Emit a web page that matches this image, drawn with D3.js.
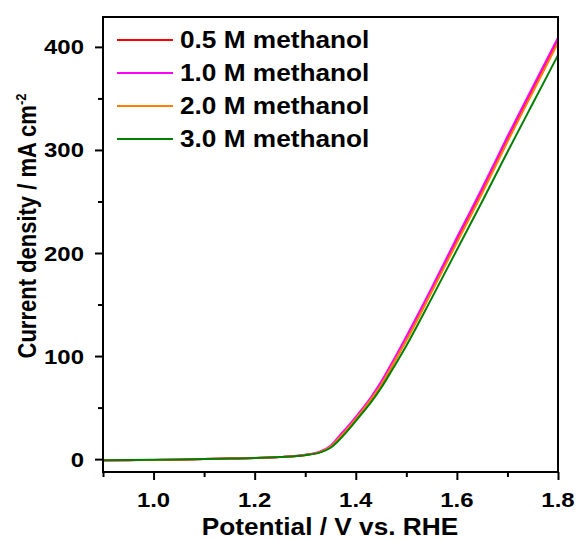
<!DOCTYPE html>
<html>
<head>
<meta charset="utf-8">
<script src="https://cdn.jsdelivr.net/npm/d3@7"></script>
<style>
body { margin: 0; background: #fff; }
text { font-family: "Liberation Sans", Arial, sans-serif; font-weight: bold; }
</style>
</head>
<body>
<div id="chart"></div>
<script>
// potential (V vs RHE)
var potential = [0.90, 0.95, 1.00, 1.05, 1.10, 1.15, 1.20, 1.25, 1.30, 1.33, 1.35, 1.37, 1.39, 1.41, 1.43, 1.45, 1.47, 1.50, 1.55, 1.60, 1.65, 1.70, 1.75, 1.80];
var m05 = [-1.2, -1.0, -0.8, -0.5, 0.0, 0.5, 1.0, 2.0, 4.0, 7, 12, 22, 33, 45, 58, 72, 89, 116, 163, 212, 260, 310, 358, 406];
var m10 = [-1.3, -1.1, -0.8, -0.5, 0.0, 0.5, 1.0, 2.0, 4.2, 7.5, 13, 24, 35, 47, 60, 75, 92, 119, 166, 215, 263, 313, 361, 409];
var m20 = [-1.2, -1.0, -0.8, -0.5, 0.0, 0.5, 1.0, 2.0, 4.0, 7, 12, 22, 33, 45, 58, 72, 89, 115, 162, 210, 258, 308, 356, 404];
var m30 = [-1.0, -0.9, -0.7, -0.4, 0.0, 0.5, 1.0, 2.0, 3.8, 6.5, 11, 20, 31, 43, 55, 69, 85, 110, 156, 203, 250, 298, 345, 392];
var seriesNames = ["0.5 M methanol", "1.0 M methanol", "2.0 M methanol", "3.0 M methanol"];
var seriesColors = ["#ff0000", "#ff00ff", "#ff8000", "#008000"];
var seriesValues = [m05, m10, m20, m30];
var xTicks = [1.0, 1.2, 1.4, 1.6, 1.8];
var yTicks = [0, 100, 200, 300, 400];

var W = 579, H = 541;
var pLeft = 103, pRight = 558, pTop = 17, pBottom = 472;
var stretch = 1.14; // the original text looks a bit wide

var svg = d3.select("#chart").append("svg")
    .attr("width", W)
    .attr("height", H);

var x = d3.scaleLinear().domain([0.9, 1.8]).range([pLeft, pRight]);
var y = d3.scaleLinear().domain([-12.5, 429]).range([pBottom, pTop]);

function widen(sel) {
    sel.each(function() {
        var len = this.getComputedTextLength();
        d3.select(this).attr("textLength", len * stretch).attr("lengthAdjust", "spacingAndGlyphs");
    });
    return sel;
}

var line = d3.line()
    .x(function(d) { return x(d[0]); })
    .y(function(d) { return y(d[1]); })
    .curve(d3.curveMonotoneX);

svg.append("clipPath").attr("id", "clip")
    .append("rect").attr("x", pLeft).attr("y", pTop)
    .attr("width", pRight - pLeft).attr("height", pBottom - pTop);

var plot = svg.append("g").attr("clip-path", "url(#clip)");
for (k = 0; k < seriesValues.length; k++) {
    var pts = potential.map(function(p, i) { return [p, seriesValues[k][i]]; });
    plot.append("path")
        .datum(pts)
        .attr("d", line)
        .style("fill", "none")
        .style("stroke", seriesColors[k])
        .style("stroke-width", 2);
}

// frame
svg.append("rect")
    .attr("x", pLeft).attr("y", pTop)
    .attr("width", pRight - pLeft).attr("height", pBottom - pTop)
    .style("fill", "none").style("stroke", "black").style("stroke-width", 2);

// x axis
var xAxis = svg.append("g").attr("transform", "translate(0," + pBottom + ")");
xAxis.call(d3.axisBottom(x).tickValues(d3.range(9, 19).map(function(v) { return v / 10; }))
    .tickSize(7).tickFormat(""));
xAxis.select(".domain").remove();
xAxis.selectAll(".tick line").style("stroke-width", 2)
    .attr("y2", function(d) { return xTicks.indexOf(Math.round(d * 10) / 10) >= 0 ? 8 : 5; });
xTicks.forEach(function(t) {
    widen(svg.append("text")
        .attr("x", x(t)).attr("y", 507)
        .attr("text-anchor", "middle")
        .style("font-size", "21px")
        .text(d3.format(".1f")(t)));
});

// y axis
var yAxis = svg.append("g").attr("transform", "translate(" + pLeft + ",0)");
yAxis.call(d3.axisLeft(y).tickValues([0, 50, 100, 150, 200, 250, 300, 350, 400]).tickSize(7).tickFormat(""));
yAxis.select(".domain").remove();
yAxis.selectAll(".tick line").style("stroke-width", 2)
    .attr("x2", function(d) { return d % 100 == 0 ? -8 : -5; });
yTicks.forEach(function(t) {
    widen(svg.append("text")
        .attr("x", 84).attr("y", y(t) + 7.5)
        .attr("text-anchor", "end")
        .style("font-size", "21px")
        .text(t));
});

// axis titles
widen(svg.append("text")
    .attr("x", 330).attr("y", 535)
    .attr("text-anchor", "middle")
    .style("font-size", "23px")
    .text("Potential / V vs. RHE"));

var yt = svg.append("text")
    .attr("transform", "translate(36,226) rotate(-90) scale(1," + stretch + ")")
    .attr("text-anchor", "middle")
    .style("font-size", "22px");
yt.append("tspan").text("Current density / mA cm");
yt.append("tspan").attr("dy", -9).style("font-size", "13px").text("-2");

// legend
for (k = 0; k < seriesNames.length; k++) {
    var ly = 40 + k * 33;
    svg.append("line")
        .attr("x1", 117).attr("x2", 173)
        .attr("y1", ly).attr("y2", ly)
        .style("stroke", seriesColors[k])
        .style("stroke-width", 2);
    widen(svg.append("text")
        .attr("x", 180).attr("y", ly + 8)
        .style("font-size", "23px")
        .text(seriesNames[k]));
}
</script>
</body>
</html>
